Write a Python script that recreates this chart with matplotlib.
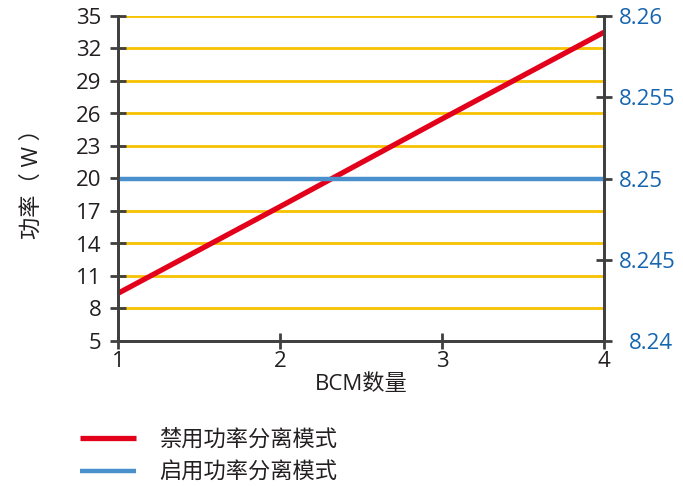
import matplotlib
matplotlib.use("Agg")
import matplotlib.pyplot as plt

plt.rcParams['font.family'] = ['Open Sans', 'Noto Sans CJK SC', 'DejaVu Sans']

# data
bcm_counts = [1, 2, 3, 4]
power_disabled = [9.4, 17.4, 25.5, 33.5]      # left axis (W)
power_enabled = [8.25, 8.25, 8.25, 8.25]      # right axis (W)
left_ticks = [5, 8, 11, 14, 17, 20, 23, 26, 29, 32, 35]
right_ticks = [8.24, 8.245, 8.25, 8.255, 8.26]
right_tick_labels = ["8.24", "8.245", "8.25", "8.255", "8.26"]
series_labels = ["禁用功率分离模式", "启用功率分离模式"]

red = "#e3001b"
blue = "#4a90cc"
gold = "#f7c200"
axis_gray = "#404040"
text_dark = "#231f20"
text_blue = "#1565b0"

fig = plt.figure(figsize=(6.83, 4.86), dpi=100)
ax = fig.add_axes([118 / 683, 1 - 341 / 486, (604 - 118) / 683, (341 - 16) / 486])
ax2 = ax.twinx()

ax.set_xlim(1, 4)
ax.set_ylim(5, 35)
ax.set_yticks(left_ticks)
ax.set_xticks(bcm_counts)
ax2.set_ylim(8.24, 8.26)
ax2.set_yticks(right_ticks)
ax2.set_yticklabels(right_tick_labels)

# gold horizontal gridlines
for y in left_ticks[1:]:
    ax.axhline(y, color=gold, lw=2, zorder=1)

line_red, = ax.plot(bcm_counts, power_disabled, color=red, lw=3.8,
                    solid_capstyle='butt', zorder=4, clip_on=False)
line_blue, = ax2.plot(bcm_counts, power_enabled, color=blue, lw=3.2,
                      solid_capstyle='butt', zorder=3)

for a in (ax, ax2):
    a.spines['top'].set_visible(False)
    for s in ('left', 'right', 'bottom'):
        a.spines[s].set_color(axis_gray)
        a.spines[s].set_linewidth(2)
        a.spines[s].set_zorder(5)

ax.tick_params(axis='y', direction='inout', length=12, width=2, color=axis_gray,
               labelsize=16, labelcolor=text_dark, pad=6)
ax.tick_params(axis='x', direction='inout', length=12, width=2, color=axis_gray,
               labelsize=16, labelcolor=text_dark, pad=1)
ax2.tick_params(axis='y', direction='inout', length=12, width=2, color=axis_gray,
                labelsize=16, labelcolor=text_blue, pad=5)

# the bottom right label sits a little further right
ax2.get_yticklabels()[0].set_x(1.02)

ax.set_xlabel("BCM数量", fontsize=16, color=text_dark, labelpad=2)
ax.set_ylabel("功率（ W ）", fontsize=16, color=text_dark, labelpad=24)

fig.legend([line_red, line_blue], series_labels, loc='upper left',
           bbox_to_anchor=(80 / 683, 1 - 429 / 486), frameon=False,
           fontsize=16, handlelength=2.5, handletextpad=1.05, labelspacing=0.55,
           borderpad=0, borderaxespad=0, labelcolor=text_dark)

fig.savefig("out.png", dpi=100)
